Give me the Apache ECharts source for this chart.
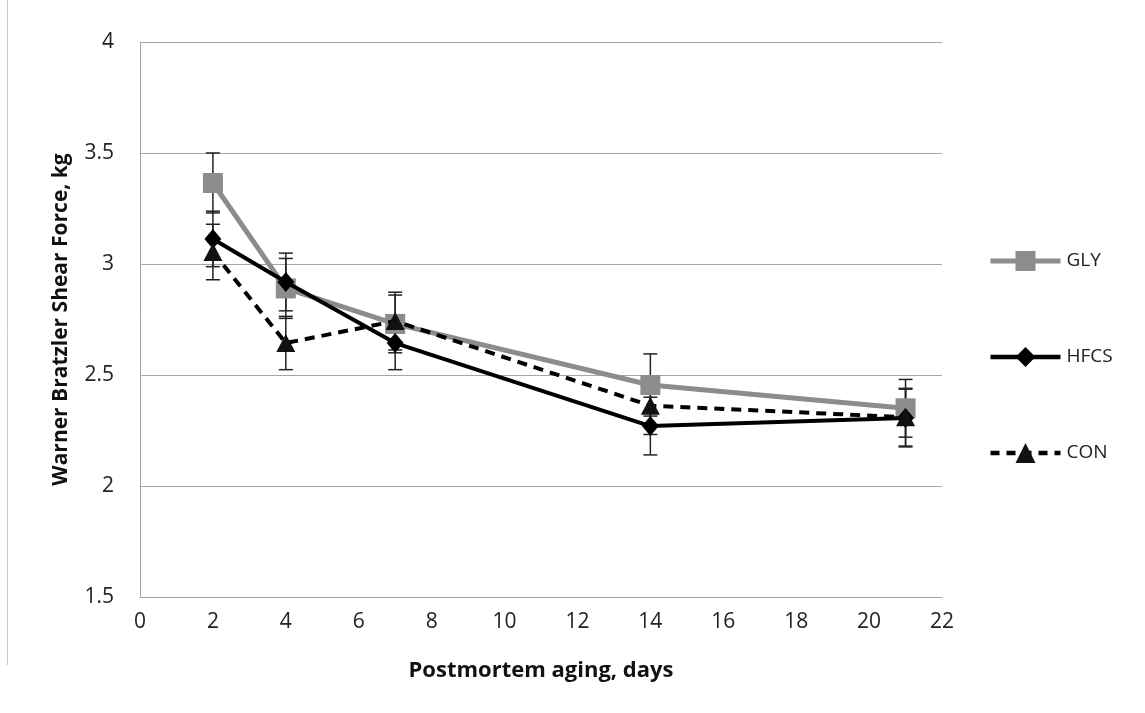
<!DOCTYPE html>
<html>
<head>
<meta charset="utf-8">
<script src="https://cdn.jsdelivr.net/npm/echarts@6/dist/echarts.min.js"></script>
<style>html,body{margin:0;padding:0;background:#fff}#c{width:1145px;height:713px}</style>
</head>
<body>
<div id="c"></div>
<script>
const days = [2, 4, 7, 14, 21];
const glyValues = [3.365, 2.89, 2.73, 2.455, 2.35];
const glyErr = [0.135, 0.135, 0.13, 0.14, 0.13];
const hfcsValues = [3.113, 2.919, 2.644, 2.27, 2.306];
const hfcsErr = [0.125, 0.13, 0.12, 0.13, 0.13];
const conValues = [3.054, 2.644, 2.743, 2.362, 2.31];
const conErr = [0.125, 0.12, 0.13, 0.13, 0.13];
const seriesNames = ['GLY', 'HFCS', 'CON'];

const font = '"Open Sans", "Noto Sans", sans-serif';
const chart = echarts.init(document.getElementById('c'), null, {renderer: 'canvas'});

function pairs(vals){ return days.map((d,i)=>[d, vals[i]]); }
function errData(vals, errs){ return days.map((d,i)=>[d, vals[i]-errs[i], vals[i]+errs[i]]); }

function errSeries(vals, errs){
  return {
    type: 'custom',
    z: 3,
    silent: true,
    data: errData(vals, errs),
    encode: {x: 0, y: [1, 2]},
    renderItem: function(params, api){
      const x = api.value(0);
      const lo = api.coord([x, api.value(1)]);
      const hi = api.coord([x, api.value(2)]);
      const hw = 7;
      const st = {stroke: '#222', lineWidth: 1.5, fill: null};
      return {type: 'group', children: [
        {type: 'line', shape: {x1: lo[0], y1: lo[1], x2: hi[0], y2: hi[1]}, style: st},
        {type: 'line', shape: {x1: lo[0]-hw, y1: lo[1], x2: lo[0]+hw, y2: lo[1]}, style: st},
        {type: 'line', shape: {x1: hi[0]-hw, y1: hi[1], x2: hi[0]+hw, y2: hi[1]}, style: st}
      ]};
    }
  };
}

const option = {
  backgroundColor: '#fff',
  animation: false,
  grid: {left: 140, right: 203, top: 42, bottom: 116},
  graphic: [{type: 'line', shape: {x1: 7.5, y1: 0, x2: 7.5, y2: 665}, style: {stroke: '#c8c8c8', lineWidth: 1}}],
  legend: {
    orient: 'vertical',
    left: 983,
    top: 246,
    itemWidth: 70,
    itemHeight: 25,
    itemGap: 76,
    textStyle: {fontFamily: font, fontSize: 19, color: '#222', padding: [0,0,0,1]},
    data: [
      {name: 'GLY', lineStyle: {width: 5}},
      {name: 'HFCS', lineStyle: {width: 4.5}},
      {name: 'CON', lineStyle: {width: 4.5, type: [9, 7]}}
    ]
  },
  xAxis: {
    type: 'value',
    min: 0, max: 22, interval: 2,
    name: 'Postmortem aging, days',
    nameLocation: 'middle',
    nameGap: 63,
    nameTextStyle: {fontFamily: font, fontSize: 22, fontWeight: 'bold', color: '#111'},
    axisLine: {show: true, lineStyle: {color: '#a6a6a6', width: 1}},
    axisTick: {show: false},
    splitLine: {show: false},
    axisLabel: {fontFamily: font, fontSize: 21, color: '#222', margin: 15}
  },
  yAxis: {
    type: 'value',
    min: 1.5, max: 4, interval: 0.5,
    name: 'Warner Bratzler Shear Force, kg',
    nameLocation: 'middle',
    nameGap: 68,
    nameTextStyle: {fontFamily: font, fontSize: 21, fontWeight: 'bold', color: '#111'},
    axisLine: {show: true, lineStyle: {color: '#a6a6a6', width: 1}},
    axisTick: {show: false},
    splitLine: {show: true, lineStyle: {color: '#a6a6a6', width: 1}},
    axisLabel: {fontFamily: font, fontSize: 21, color: '#222', margin: 26}
  },
  series: [
    {
      name: 'GLY', type: 'line', data: pairs(glyValues), z: 4,
      symbol: 'rect', symbolSize: 20,
      lineStyle: {color: '#8c8c8c', width: 5},
      itemStyle: {color: '#8c8c8c'}
    },
    {
      name: 'HFCS', type: 'line', data: pairs(hfcsValues), z: 5,
      symbol: 'diamond', symbolSize: [17, 20],
      lineStyle: {color: '#000', width: 4},
      itemStyle: {color: '#000'}
    },
    {
      name: 'CON', type: 'line', data: pairs(conValues), z: 6,
      symbol: 'triangle', symbolSize: [19, 18],
      lineStyle: {color: '#000', width: 4, type: [10, 7]},
      itemStyle: {color: '#111'}
    },
    errSeries(glyValues, glyErr),
    errSeries(hfcsValues, hfcsErr),
    errSeries(conValues, conErr)
  ]
};
chart.setOption(option);
</script>
</body>
</html>
